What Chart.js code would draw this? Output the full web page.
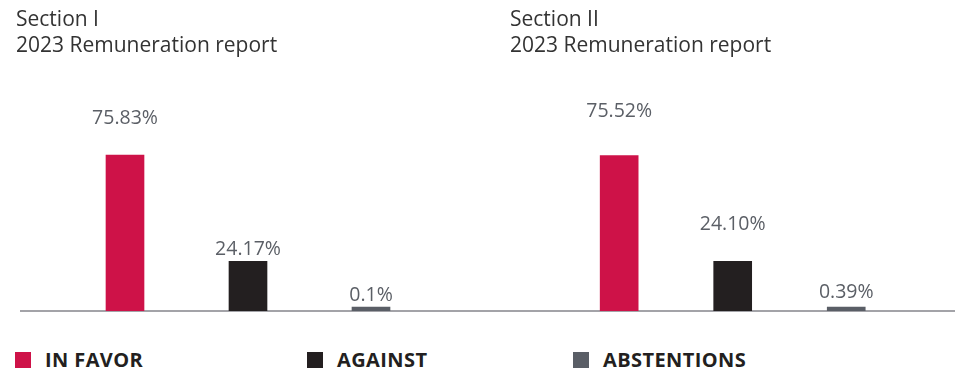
<!DOCTYPE html>
<html>
<head>
<meta charset="utf-8">
<script src="https://cdn.jsdelivr.net/npm/chart.js@4.4.1/dist/chart.umd.min.js"></script>
<style>
    body { margin: 0; background: #fff; font-family: 'Open Sans', sans-serif; }
    #wrap { position: relative; width: 955px; height: 371px; overflow: hidden; }
    canvas { position: absolute; top: 0; }
    .key { position: absolute; top: 352px; height: 16px; line-height: 16px; font-size: 20px; font-weight: 700; letter-spacing: 0.4px; color: #231f20; }
    .key i { position: absolute; left: 0; top: 0; width: 16px; height: 16px; }
    .key span { position: absolute; left: 30px; top: 0; white-space: nowrap; }
</style>
</head>
<body>
<div id="wrap">
    <canvas id="sectionOne" width="478" height="340" style="left:0"></canvas>
    <canvas id="sectionTwo" width="477" height="340" style="left:478px"></canvas>
    <div id="legend"></div>
</div>
<script>
const categories = ['IN FAVOR', 'AGAINST', 'ABSTENTIONS']
const sectionOneVotes = [75.83, 24.17, 0.1]
const sectionTwoVotes = [75.52, 24.1, 0.39]
const sectionOneLabels = ['75.83%', '24.17%', '0.1%']
const sectionTwoLabels = ['75.52%', '24.10%', '0.39%']
const titles = [
    ['Section I', '2023 Remuneration report'],
    ['Section II', '2023 Remuneration report'],
]

const colors = ['#ce1248', '#231f20', '#5a5e66']

// Value above each bar, offset per bar
const valueLabels = {
    id: 'valueLabels',
    afterDatasetsDraw(chart, args, opts) {
        const c = chart.ctx
        const bars = chart.getDatasetMeta(0).data
        c.save()
        c.font = '19.5px "Open Sans"'
        c.fillStyle = '#5b5f66'
        c.textAlign = 'center'
        c.textBaseline = 'middle'
        bars.forEach((bar, i) => {
            c.fillText(opts.labels[i], bar.x, bar.y - opts.offsets[i])
        })
        c.restore()
    },
}

// Grey rule along zero
const baseline = {
    id: 'baseline',
    beforeDatasetsDraw(chart, args, opts) {
        const c = chart.ctx
        const y = chart.scales.y.getPixelForValue(0)
        c.save()
        c.strokeStyle = '#a3a3a8'
        c.lineWidth = 2
        c.beginPath()
        c.moveTo(opts.from, y)
        c.lineTo(chart.width, y)
        c.stroke()
        c.restore()
    },
}

function makeChart(id, votes, labels, title, pad, axisWidth, offsets, from) {
    return new Chart(document.getElementById(id).getContext('2d'), {
        type: 'bar',
        data: {
            labels: categories,
            datasets: [
                {
                    data: votes,
                    backgroundColor: colors,
                    barThickness: 38,
                    minBarLength: 4,
                },
            ],
        },
        options: {
            responsive: false,
            animation: false,
            layout: {
                padding: { left: pad[0], right: pad[1], top: 0, bottom: 29 },
            },
            scales: {
                x: { display: false },
                y: {
                    min: 0,
                    max: 100,
                    grid: { display: false },
                    border: { display: false },
                    ticks: { display: false },
                    afterFit(scale) {
                        scale.width = axisWidth
                    },
                },
            },
            plugins: {
                legend: { display: false },
                tooltip: { enabled: false },
                title: {
                    display: true,
                    text: title,
                    align: 'start',
                    color: '#333333',
                    font: { family: 'Open Sans', size: 21, weight: 'normal', lineHeight: 1.27 },
                    padding: { top: 6.5, bottom: 45.5 },
                },
                valueLabels: { labels: labels, offsets: offsets },
                baseline: { from: from },
            },
        },
        plugins: [valueLabels, baseline],
    })
}

const sectionOne = makeChart('sectionOne', sectionOneVotes, sectionOneLabels, titles[0],
    [16, 45.5], 47.5, [36.5, 11.5, 12], 20)
const sectionTwo = makeChart('sectionTwo', sectionTwoVotes, sectionTwoLabels, titles[1],
    [32, 52], 52.4, [44.5, 37, 14.5], 0)

// Legend row
const legendLeft = [15, 307, 573]
const legend = document.getElementById('legend')
categories.forEach((name, i) => {
    const item = document.createElement('div')
    item.className = 'key'
    item.style.left = legendLeft[i] + 'px'
    item.innerHTML = '<i style="background:' + colors[i] + '"></i><span>' + name + '</span>'
    legend.appendChild(item)
})
</script>
</body>
</html>
